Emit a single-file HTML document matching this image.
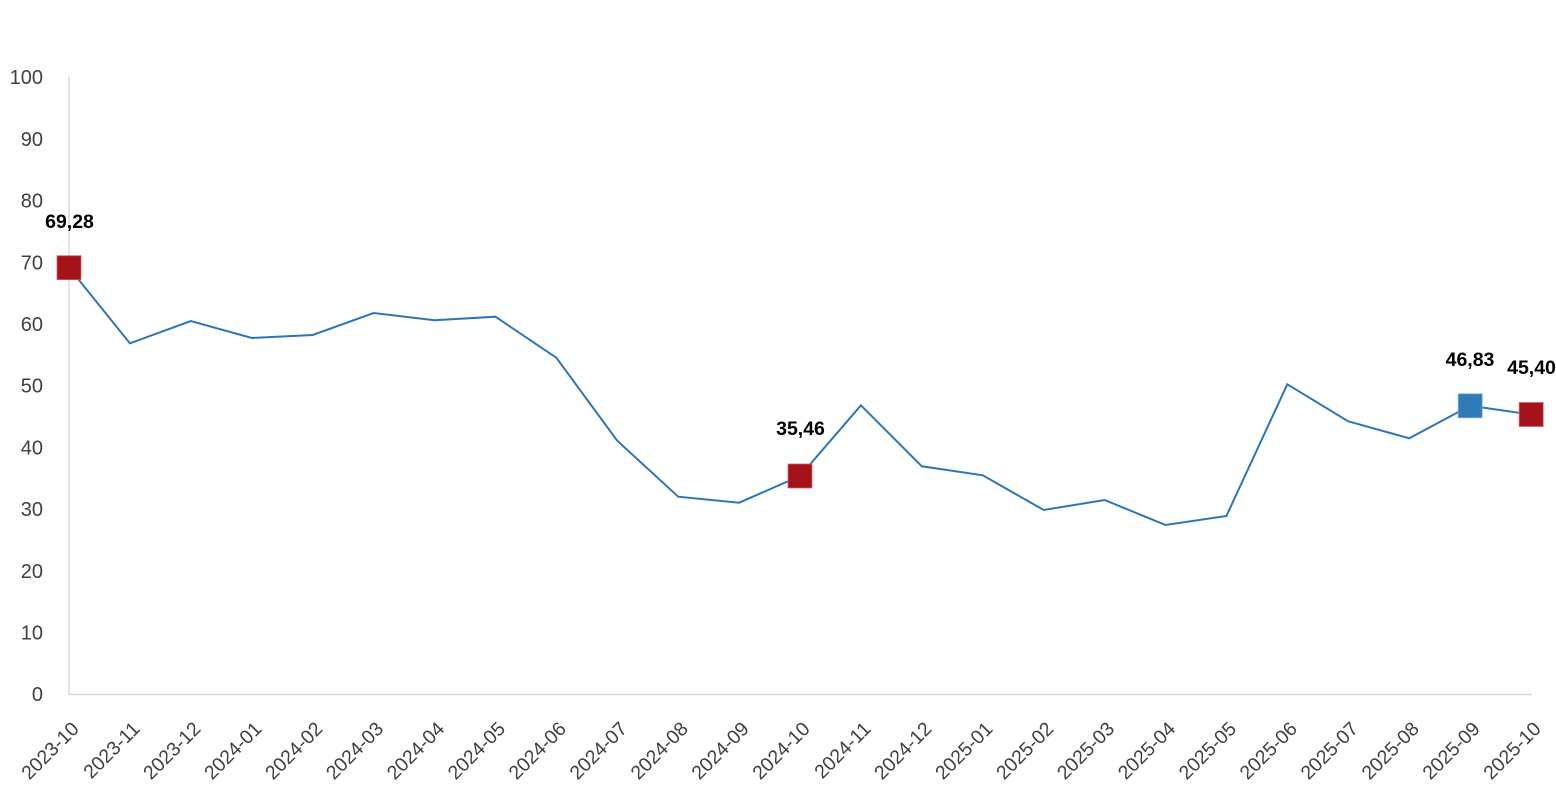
<!DOCTYPE html>
<html>
<head>
<meta charset="utf-8">
<style>
  html, body { margin: 0; padding: 0; background: #ffffff; }
  svg { display: block; }
  .yl { font-family: "Liberation Sans", "DejaVu Sans", sans-serif; font-size: 20px; fill: #404040; }
  .xl { font-family: "Liberation Sans", "DejaVu Sans", sans-serif; font-size: 19.5px; fill: #404040; }
  .dl { font-family: "Liberation Sans", "DejaVu Sans", sans-serif; font-size: 19.5px; font-weight: bold; fill: #000000; }
</style>
</head>
<body>
<svg width="1556" height="800" viewBox="0 0 1556 800" xmlns="http://www.w3.org/2000/svg">
  <rect width="1556" height="800" fill="#ffffff"/>
  <!-- axes -->
  <line x1="69" y1="76" x2="69" y2="694.5" stroke="#d9d9d9" stroke-width="1.5"/>
  <line x1="68.5" y1="694.5" x2="1532" y2="694.5" stroke="#d9d9d9" stroke-width="1.5"/>

  <!-- y labels -->
  <g class="yl" text-anchor="end">
    <text x="43" y="84.2">100</text>
    <text x="43" y="145.9">90</text>
    <text x="43" y="207.6">80</text>
    <text x="43" y="269.3">70</text>
    <text x="43" y="331">60</text>
    <text x="43" y="392.7">50</text>
    <text x="43" y="454.4">40</text>
    <text x="43" y="516.1">30</text>
    <text x="43" y="577.8">20</text>
    <text x="43" y="639.5">10</text>
    <text x="43" y="701.2">0</text>
  </g>

  <!-- x labels -->
  <g class="xl" text-anchor="end">
    <text transform="translate(80,730) rotate(-45)">2023-10</text>
    <text transform="translate(140.9,730) rotate(-45)">2023-11</text>
    <text transform="translate(201.8,730) rotate(-45)">2023-12</text>
    <text transform="translate(262.75,730) rotate(-45)">2024-01</text>
    <text transform="translate(323.7,730) rotate(-45)">2024-02</text>
    <text transform="translate(384.6,730) rotate(-45)">2024-03</text>
    <text transform="translate(445.5,730) rotate(-45)">2024-04</text>
    <text transform="translate(506.4,730) rotate(-45)">2024-05</text>
    <text transform="translate(567.3,730) rotate(-45)">2024-06</text>
    <text transform="translate(628.25,730) rotate(-45)">2024-07</text>
    <text transform="translate(689.2,730) rotate(-45)">2024-08</text>
    <text transform="translate(750.1,730) rotate(-45)">2024-09</text>
    <text transform="translate(811,730) rotate(-45)">2024-10</text>
    <text transform="translate(871.9,730) rotate(-45)">2024-11</text>
    <text transform="translate(932.8,730) rotate(-45)">2024-12</text>
    <text transform="translate(993.75,730) rotate(-45)">2025-01</text>
    <text transform="translate(1054.7,730) rotate(-45)">2025-02</text>
    <text transform="translate(1115.6,730) rotate(-45)">2025-03</text>
    <text transform="translate(1176.5,730) rotate(-45)">2025-04</text>
    <text transform="translate(1237.4,730) rotate(-45)">2025-05</text>
    <text transform="translate(1298.3,730) rotate(-45)">2025-06</text>
    <text transform="translate(1359.25,730) rotate(-45)">2025-07</text>
    <text transform="translate(1420.2,730) rotate(-45)">2025-08</text>
    <text transform="translate(1481.1,730) rotate(-45)">2025-09</text>
    <text transform="translate(1542,730) rotate(-45)">2025-10</text>
  </g>

  <!-- series line -->
  <polyline fill="none" stroke="#2E75B6" stroke-width="2" stroke-linejoin="miter"
    points="69,267.7 129.9,343.3 190.8,321 251.75,338 312.7,335 373.6,313 434.5,320.3 495.4,316.7 556.3,357.7 617.25,440.7 678.2,496.7 739.1,502.7 800,476 860.9,405.3 921.8,466.3 982.75,475.3 1043.7,510 1104.6,500 1165.5,525 1226.4,516 1287.3,384.3 1348.25,421.3 1409.2,438.3 1470.1,405.8 1531,414.5"/>

  <!-- markers -->
  <rect x="57" y="255.7" width="24" height="24" fill="#A6121A" stroke="#c9666b" stroke-width="0.8"/>
  <rect x="788" y="464" width="24" height="24" fill="#A6121A" stroke="#c9666b" stroke-width="0.8"/>
  <rect x="1458.2" y="393.8" width="24" height="24" fill="#2E7BB8" stroke="#7fb0d6" stroke-width="0.8"/>
  <rect x="1519.2" y="402.5" width="24" height="24" fill="#A6121A" stroke="#c9666b" stroke-width="0.8"/>

  <!-- data labels -->
  <g class="dl" text-anchor="middle">
    <text x="69.5" y="228">69,28</text>
    <text x="800.5" y="435">35,46</text>
    <text x="1470" y="366">46,83</text>
    <text x="1531.5" y="374">45,40</text>
  </g>
</svg>
</body>
</html>
